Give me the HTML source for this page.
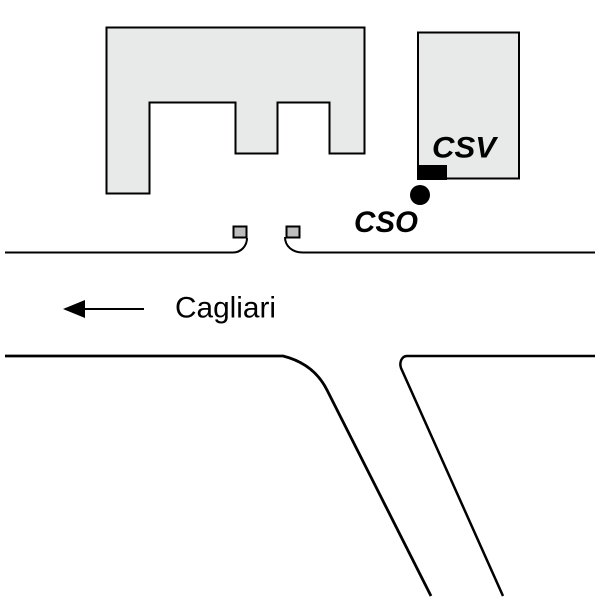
<!DOCTYPE html>
<html>
<head>
<meta charset="utf-8">
<style>
html,body{margin:0;padding:0;background:#fff;width:600px;height:600px;overflow:hidden}
svg{display:block}
text{font-family:"Liberation Sans",sans-serif}
</style>
</head>
<body>
<svg width="600" height="600" viewBox="0 0 600 600" xmlns="http://www.w3.org/2000/svg">
<path d="M106.500 27.500H364.500V153.500H329.500V102.500H277.500V153.500H235.500V102.500H149.500V193.500H106.500Z" fill="#e8e9e9" stroke="#000" stroke-width="2"/>
<rect x="418" y="32.500" width="101" height="146" fill="#e8e9e9" stroke="#000" stroke-width="2"/>
<rect x="417" y="165" width="30" height="15" fill="#000"/>
<circle cx="420" cy="195" r="10" fill="#000"/>
<text x="432" y="157.500" font-size="29.500" font-weight="bold" font-style="italic" fill="#000" textLength="64" lengthAdjust="spacingAndGlyphs">CSV</text>
<text x="354" y="232" font-size="29.500" font-weight="bold" font-style="italic" fill="#000" textLength="64" lengthAdjust="spacingAndGlyphs">CSO</text>
<rect x="233.500" y="226.500" width="13" height="11" fill="#bdbdbd" stroke="#000" stroke-width="2"/>
<rect x="286.500" y="226.500" width="13" height="11" fill="#bdbdbd" stroke="#000" stroke-width="2"/>
<path d="M5 252.500H233C241 252.500 247 246 247 238" fill="none" stroke="#000" stroke-width="2"/>
<path d="M595 252.500H303C292 252.500 285 246 285 237" fill="none" stroke="#000" stroke-width="2"/>
<path d="M144 309H78" fill="none" stroke="#000" stroke-width="2"/>
<path d="M63 309L85 300V318Z" fill="#000"/>
<text x="175" y="317.500" font-size="29.500" fill="#000" textLength="101" lengthAdjust="spacingAndGlyphs">Cagliari</text>
<path d="M5 356H283C303 361 318 372 327 390L431 596" fill="none" stroke="#000" stroke-width="2.800"/>
<path d="M595 356H407C402 356 399 362 401 368L503 596" fill="none" stroke="#000" stroke-width="2.500"/>
</svg>
</body>
</html>
